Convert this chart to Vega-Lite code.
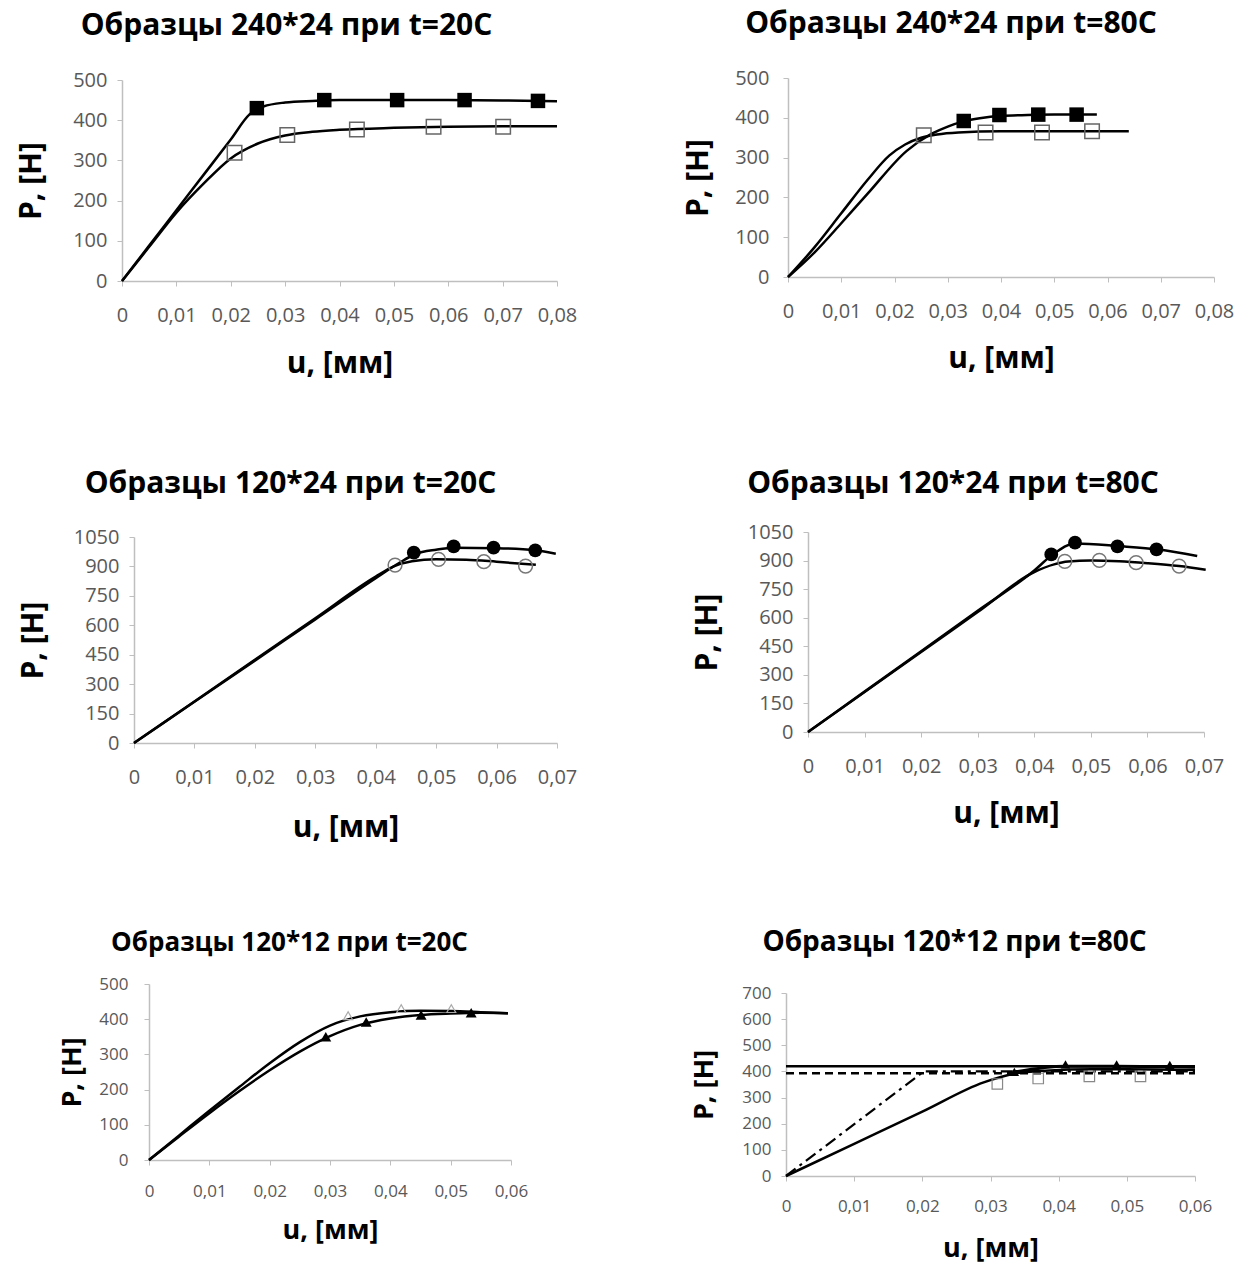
{
  "$schema": "https://vega.github.io/schema/vega-lite/v6.json",
  "background": "white",
  "padding": {"left": 16, "top": 9, "right": 5, "bottom": 5},
  "columns": 2,
  "bounds": "flush",
  "align": "each",
  "spacing": {"row": 241, "column": 229},
  "config": {
    "view": {"stroke": null},
    "axis": {"grid": false, "domainColor": "#bfbfbf", "domainWidth": 1.5, "tickColor": "#bfbfbf", "tickSize": 5, "labelColor": "#595959", "labelFont": "Open Sans", "labelFontSize": 20, "labelOverlap": false, "labelFlush": false, "titleFont": "Open Sans", "titleFontSize": 30, "titleFontWeight": "bold", "titleColor": "#000000"},
    "title": {"font": "Open Sans", "fontSize": 30, "fontWeight": "bold", "color": "#000000", "anchor": "middle", "frame": "group"}
  },
  "datasets": {
    "p1": [
      {"u": 0, "P": 0, "s": "fc"}, {"u": 0.005, "P": 88, "s": "fc"}, {"u": 0.01, "P": 176, "s": "fc"}, {"u": 0.015, "P": 264, "s": "fc"}, {"u": 0.02, "P": 352, "s": "fc"}, {"u": 0.0235, "P": 415, "s": "fc"}, {"u": 0.026, "P": 434, "s": "fc"}, {"u": 0.03, "P": 444, "s": "fc"}, {"u": 0.035, "P": 448, "s": "fc"}, {"u": 0.04, "P": 450, "s": "fc"}, {"u": 0.05, "P": 450, "s": "fc"}, {"u": 0.06, "P": 450, "s": "fc"}, {"u": 0.07, "P": 449, "s": "fc"}, {"u": 0.08, "P": 447, "s": "fc"},
      {"u": 0, "P": 0, "s": "oc"}, {"u": 0.005, "P": 85, "s": "oc"}, {"u": 0.01, "P": 170, "s": "oc"}, {"u": 0.015, "P": 242, "s": "oc"}, {"u": 0.02, "P": 305, "s": "oc"}, {"u": 0.025, "P": 342, "s": "oc"}, {"u": 0.03, "P": 362, "s": "oc"}, {"u": 0.035, "P": 371, "s": "oc"}, {"u": 0.04, "P": 376, "s": "oc"}, {"u": 0.05, "P": 381, "s": "oc"}, {"u": 0.06, "P": 384, "s": "oc"}, {"u": 0.07, "P": 385, "s": "oc"}, {"u": 0.08, "P": 385, "s": "oc"},
      {"u": 0.0248, "P": 430, "s": "fm"}, {"u": 0.0372, "P": 450, "s": "fm"}, {"u": 0.0506, "P": 450, "s": "fm"}, {"u": 0.063, "P": 450, "s": "fm"}, {"u": 0.0765, "P": 448, "s": "fm"},
      {"u": 0.0207, "P": 319, "s": "om"}, {"u": 0.0304, "P": 363, "s": "om"}, {"u": 0.0432, "P": 377, "s": "om"}, {"u": 0.0573, "P": 384, "s": "om"}, {"u": 0.0701, "P": 384, "s": "om"}
    ],
    "p2": [
      {"u": 0, "P": 0, "s": "fc"}, {"u": 0.005, "P": 62, "s": "fc"}, {"u": 0.01, "P": 135, "s": "fc"}, {"u": 0.015, "P": 210, "s": "fc"}, {"u": 0.0223, "P": 317, "s": "fc"}, {"u": 0.027, "P": 360, "s": "fc"}, {"u": 0.03, "P": 378, "s": "fc"}, {"u": 0.033, "P": 391, "s": "fc"}, {"u": 0.036, "P": 399, "s": "fc"}, {"u": 0.04, "P": 405, "s": "fc"}, {"u": 0.045, "P": 407, "s": "fc"}, {"u": 0.05, "P": 408, "s": "fc"}, {"u": 0.058, "P": 408, "s": "fc"},
      {"u": 0, "P": 0, "s": "oc"}, {"u": 0.005, "P": 75, "s": "oc"}, {"u": 0.01, "P": 160, "s": "oc"}, {"u": 0.015, "P": 245, "s": "oc"}, {"u": 0.019, "P": 305, "s": "oc"}, {"u": 0.022, "P": 333, "s": "oc"}, {"u": 0.025, "P": 350, "s": "oc"}, {"u": 0.028, "P": 358, "s": "oc"}, {"u": 0.032, "P": 363, "s": "oc"}, {"u": 0.04, "P": 366, "s": "oc"}, {"u": 0.05, "P": 366, "s": "oc"}, {"u": 0.064, "P": 366, "s": "oc"},
      {"u": 0.033, "P": 392, "s": "fm"}, {"u": 0.0397, "P": 407, "s": "fm"}, {"u": 0.047, "P": 408, "s": "fm"}, {"u": 0.0542, "P": 408, "s": "fm"},
      {"u": 0.0255, "P": 356, "s": "om"}, {"u": 0.0371, "P": 363, "s": "om"}, {"u": 0.0477, "P": 363, "s": "om"}, {"u": 0.0571, "P": 366, "s": "om"}
    ],
    "p3": [
      {"u": 0, "P": 0, "s": "fc"}, {"u": 0.01, "P": 210, "s": "fc"}, {"u": 0.02, "P": 420, "s": "fc"}, {"u": 0.03, "P": 630, "s": "fc"}, {"u": 0.04, "P": 840, "s": "fc"}, {"u": 0.044, "P": 920, "s": "fc"}, {"u": 0.0465, "P": 962, "s": "fc"}, {"u": 0.05, "P": 985, "s": "fc"}, {"u": 0.053, "P": 995, "s": "fc"}, {"u": 0.06, "P": 993, "s": "fc"}, {"u": 0.0665, "P": 982, "s": "fc"}, {"u": 0.0698, "P": 965, "s": "fc"},
      {"u": 0, "P": 0, "s": "oc"}, {"u": 0.01, "P": 212, "s": "oc"}, {"u": 0.02, "P": 424, "s": "oc"}, {"u": 0.03, "P": 636, "s": "oc"}, {"u": 0.04, "P": 848, "s": "oc"}, {"u": 0.043, "P": 900, "s": "oc"}, {"u": 0.046, "P": 926, "s": "oc"}, {"u": 0.05, "P": 936, "s": "oc"}, {"u": 0.055, "P": 934, "s": "oc"}, {"u": 0.06, "P": 924, "s": "oc"}, {"u": 0.0665, "P": 908, "s": "oc"},
      {"u": 0.0463, "P": 970, "s": "fm"}, {"u": 0.0529, "P": 1002, "s": "fm"}, {"u": 0.0595, "P": 996, "s": "fm"}, {"u": 0.0664, "P": 982, "s": "fm"},
      {"u": 0.0432, "P": 907, "s": "om"}, {"u": 0.0504, "P": 936, "s": "om"}, {"u": 0.0579, "P": 924, "s": "om"}, {"u": 0.0648, "P": 902, "s": "om"}
    ],
    "p4": [
      {"u": 0, "P": 0, "s": "fc"}, {"u": 0.01, "P": 212, "s": "fc"}, {"u": 0.02, "P": 424, "s": "fc"}, {"u": 0.03, "P": 636, "s": "fc"}, {"u": 0.04, "P": 848, "s": "fc"}, {"u": 0.043, "P": 925, "s": "fc"}, {"u": 0.0472, "P": 990, "s": "fc"}, {"u": 0.055, "P": 976, "s": "fc"}, {"u": 0.062, "P": 958, "s": "fc"}, {"u": 0.0688, "P": 924, "s": "fc"},
      {"u": 0, "P": 0, "s": "oc"}, {"u": 0.01, "P": 210, "s": "oc"}, {"u": 0.02, "P": 420, "s": "oc"}, {"u": 0.03, "P": 630, "s": "oc"}, {"u": 0.04, "P": 840, "s": "oc"}, {"u": 0.0435, "P": 880, "s": "oc"}, {"u": 0.046, "P": 895, "s": "oc"}, {"u": 0.05, "P": 900, "s": "oc"}, {"u": 0.055, "P": 896, "s": "oc"}, {"u": 0.06, "P": 886, "s": "oc"}, {"u": 0.0656, "P": 871, "s": "oc"}, {"u": 0.0703, "P": 852, "s": "oc"},
      {"u": 0.043, "P": 932, "s": "fm"}, {"u": 0.0472, "P": 994, "s": "fm"}, {"u": 0.0547, "P": 975, "s": "fm"}, {"u": 0.0616, "P": 959, "s": "fm"},
      {"u": 0.0454, "P": 896, "s": "om"}, {"u": 0.0515, "P": 901, "s": "om"}, {"u": 0.058, "P": 889, "s": "om"}, {"u": 0.0656, "P": 871, "s": "om"}
    ],
    "p5": [
      {"u": 0, "P": 0, "s": "uc"}, {"u": 0.005, "P": 70, "s": "uc"}, {"u": 0.01, "P": 140, "s": "uc"}, {"u": 0.015, "P": 208, "s": "uc"}, {"u": 0.02, "P": 275, "s": "uc"}, {"u": 0.025, "P": 335, "s": "uc"}, {"u": 0.03, "P": 382, "s": "uc"}, {"u": 0.035, "P": 408, "s": "uc"}, {"u": 0.04, "P": 420, "s": "uc"}, {"u": 0.045, "P": 424, "s": "uc"}, {"u": 0.05, "P": 423, "s": "uc"}, {"u": 0.055, "P": 420, "s": "uc"}, {"u": 0.0595, "P": 417, "s": "uc"},
      {"u": 0, "P": 0, "s": "lc"}, {"u": 0.005, "P": 67, "s": "lc"}, {"u": 0.01, "P": 133, "s": "lc"}, {"u": 0.015, "P": 196, "s": "lc"}, {"u": 0.02, "P": 255, "s": "lc"}, {"u": 0.025, "P": 308, "s": "lc"}, {"u": 0.03, "P": 352, "s": "lc"}, {"u": 0.035, "P": 384, "s": "lc"}, {"u": 0.04, "P": 402, "s": "lc"}, {"u": 0.045, "P": 412, "s": "lc"}, {"u": 0.05, "P": 416, "s": "lc"}, {"u": 0.055, "P": 418, "s": "lc"}, {"u": 0.0595, "P": 417, "s": "lc"},
      {"u": 0.0293, "P": 350, "s": "fm"}, {"u": 0.036, "P": 392, "s": "fm"}, {"u": 0.0451, "P": 412, "s": "fm"}, {"u": 0.0534, "P": 418, "s": "fm"},
      {"u": 0.033, "P": 410, "s": "om"}, {"u": 0.0418, "P": 430, "s": "om"}, {"u": 0.0501, "P": 430, "s": "om"}
    ],
    "p6": [
      {"u": 0, "P": 420, "s": "hs"}, {"u": 0.06, "P": 420, "s": "hs"},
      {"u": 0, "P": 393, "s": "hd"}, {"u": 0.06, "P": 393, "s": "hd"},
      {"u": 0, "P": 0, "s": "dd"}, {"u": 0.0202, "P": 400, "s": "dd"}, {"u": 0.06, "P": 400, "s": "dd"},
      {"u": 0, "P": 0, "s": "sc"}, {"u": 0.01, "P": 123, "s": "sc"}, {"u": 0.02, "P": 246, "s": "sc"}, {"u": 0.029, "P": 358, "s": "sc"}, {"u": 0.0336, "P": 392, "s": "sc"}, {"u": 0.038, "P": 403, "s": "sc"}, {"u": 0.045, "P": 408, "s": "sc"}, {"u": 0.05, "P": 408, "s": "sc"}, {"u": 0.06, "P": 405, "s": "sc"},
      {"u": 0.0335, "P": 398, "s": "tc"}, {"u": 0.041, "P": 420, "s": "tc"}, {"u": 0.0485, "P": 420, "s": "tc"}, {"u": 0.0563, "P": 418, "s": "tc"}, {"u": 0.06, "P": 416, "s": "tc"},
      {"u": 0.0335, "P": 398, "s": "fm"}, {"u": 0.041, "P": 427, "s": "fm"}, {"u": 0.0485, "P": 427, "s": "fm"}, {"u": 0.0563, "P": 425, "s": "fm"},
      {"u": 0.031, "P": 352, "s": "om"}, {"u": 0.037, "P": 373, "s": "om"}, {"u": 0.0445, "P": 381, "s": "om"}, {"u": 0.052, "P": 381, "s": "om"}
    ]
  },
  "concat": [
    {
      "width": 435, "height": 203,
      "title": {"text": "Образцы 240*24 при t=20C", "dx": -53, "offset": 29},
      "data": {"name": "p1"},
      "encoding": {
        "x": {"field": "u", "type": "quantitative", "scale": {"domain": [0, 0.08], "range": [0, 435], "nice": false},
              "axis": {"title": "u, [мм]", "values": [0, 0.01, 0.02, 0.03, 0.04, 0.05, 0.06, 0.07, 0.08], "labelExpr": "datum.value == 0 ? '0' : replace(format(datum.value, '.2f'), '.', ',')", "labelPadding": 19, "titlePadding": 23}},
        "y": {"field": "P", "type": "quantitative", "scale": {"domain": [0, 500], "range": [203, 2], "nice": false},
              "axis": {"title": "P, [Н]", "values": [0, 100, 200, 300, 400, 500], "format": "d", "labelPadding": 10, "titlePadding": 26}}
      },
      "layer": [
        {"transform": [{"filter": "datum.s == 'fc' || datum.s == 'oc'"}], "mark": {"type": "line", "color": "black", "strokeWidth": 2.5, "interpolate": "monotone"}, "encoding": {"detail": {"field": "s"}}},
        {"transform": [{"filter": "datum.s == 'fm'"}], "mark": {"type": "point", "shape": "square", "filled": true, "color": "black", "opacity": 1, "size": 210}},
        {"transform": [{"filter": "datum.s == 'om'"}], "mark": {"type": "point", "shape": "square", "filled": false, "color": "#666666", "opacity": 1, "strokeWidth": 1.5, "size": 210}}
      ]
    },
    {
      "width": 428, "height": 199,
      "title": {"text": "Образцы 240*24 при t=80C", "dx": -49, "offset": 29},
      "data": {"name": "p2"},
      "encoding": {
        "x": {"field": "u", "type": "quantitative", "scale": {"domain": [0, 0.08], "range": [2, 428], "nice": false},
              "axis": {"title": "u, [мм]", "values": [0, 0.01, 0.02, 0.03, 0.04, 0.05, 0.06, 0.07, 0.08], "labelExpr": "datum.value == 0 ? '0' : replace(format(datum.value, '.2f'), '.', ',')", "labelPadding": 19, "titlePadding": 22}},
        "y": {"field": "P", "type": "quantitative", "scale": {"domain": [0, 500], "range": [199, 0], "nice": false},
              "axis": {"title": "P, [Н]", "offset": -2, "values": [0, 100, 200, 300, 400, 500], "format": "d", "labelPadding": 14, "titlePadding": 21}}
      },
      "layer": [
        {"transform": [{"filter": "datum.s == 'fc' || datum.s == 'oc'"}], "mark": {"type": "line", "color": "black", "strokeWidth": 2.5, "interpolate": "monotone"}, "encoding": {"detail": {"field": "s"}}},
        {"transform": [{"filter": "datum.s == 'fm'"}], "mark": {"type": "point", "shape": "square", "filled": true, "color": "black", "opacity": 1, "size": 210}},
        {"transform": [{"filter": "datum.s == 'om'"}], "mark": {"type": "point", "shape": "square", "filled": false, "color": "#666666", "opacity": 1, "strokeWidth": 1.5, "size": 210}}
      ]
    },
    {
      "width": 435, "height": 221,
      "title": {"text": "Образцы 120*24 при t=20C", "dx": -49, "offset": 23},
      "data": {"name": "p3"},
      "encoding": {
        "x": {"field": "u", "type": "quantitative", "scale": {"domain": [0, 0.07], "range": [12, 435], "nice": false},
              "axis": {"title": "u, [мм]", "values": [0, 0.01, 0.02, 0.03, 0.04, 0.05, 0.06, 0.07], "labelExpr": "datum.value == 0 ? '0' : replace(format(datum.value, '.2f'), '.', ',')", "labelPadding": 19, "titlePadding": 25}},
        "y": {"field": "P", "type": "quantitative", "scale": {"domain": [0, 1050], "range": [221, 15], "nice": false},
              "axis": {"title": "P, [Н]", "offset": -12, "values": [0, 150, 300, 450, 600, 750, 900, 1050], "format": "d", "labelPadding": 10, "titlePadding": 25}}
      },
      "layer": [
        {"transform": [{"filter": "datum.s == 'fc' || datum.s == 'oc'"}], "mark": {"type": "line", "color": "black", "strokeWidth": 2.5, "interpolate": "monotone"}, "encoding": {"detail": {"field": "s"}}},
        {"transform": [{"filter": "datum.s == 'fm'"}], "mark": {"type": "point", "shape": "circle", "filled": true, "color": "black", "opacity": 1, "size": 190}},
        {"transform": [{"filter": "datum.s == 'om'"}], "mark": {"type": "point", "shape": "circle", "filled": false, "color": "#777777", "opacity": 1, "strokeWidth": 1.5, "size": 190}}
      ]
    },
    {
      "width": 418, "height": 210,
      "title": {"text": "Образцы 120*24 при t=80C", "dx": -42, "offset": 23},
      "data": {"name": "p4"},
      "encoding": {
        "x": {"field": "u", "type": "quantitative", "scale": {"domain": [0, 0.07], "range": [22, 418], "nice": false},
              "axis": {"title": "u, [мм]", "values": [0, 0.01, 0.02, 0.03, 0.04, 0.05, 0.06, 0.07], "labelExpr": "datum.value == 0 ? '0' : replace(format(datum.value, '.2f'), '.', ',')", "labelPadding": 19, "titlePadding": 22}},
        "y": {"field": "P", "type": "quantitative", "scale": {"domain": [0, 1050], "range": [210, 10], "nice": false},
              "axis": {"title": "P, [Н]", "offset": -22, "values": [0, 150, 300, 450, 600, 750, 900, 1050], "format": "d", "labelPadding": 10, "titlePadding": 25}}
      },
      "layer": [
        {"transform": [{"filter": "datum.s == 'fc' || datum.s == 'oc'"}], "mark": {"type": "line", "color": "black", "strokeWidth": 2.5, "interpolate": "monotone"}, "encoding": {"detail": {"field": "s"}}},
        {"transform": [{"filter": "datum.s == 'fm'"}], "mark": {"type": "point", "shape": "circle", "filled": true, "color": "black", "opacity": 1, "size": 190}},
        {"transform": [{"filter": "datum.s == 'om'"}], "mark": {"type": "point", "shape": "circle", "filled": false, "color": "#777777", "opacity": 1, "strokeWidth": 1.5, "size": 190}}
      ]
    },
    {
      "width": 389, "height": 176,
      "title": {"text": "Образцы 120*12 при t=20C", "dx": -27, "offset": 19, "fontSize": 26},
      "data": {"name": "p5"},
      "encoding": {
        "x": {"field": "u", "type": "quantitative", "scale": {"domain": [0, 0.06], "range": [27, 389], "nice": false},
              "axis": {"title": "u, [мм]", "values": [0, 0.01, 0.02, 0.03, 0.04, 0.05, 0.06], "labelExpr": "datum.value == 0 ? '0' : replace(format(datum.value, '.2f'), '.', ',')", "labelFontSize": 17, "titleFontSize": 27, "labelPadding": 18, "titlePadding": 18}},
        "y": {"field": "P", "type": "quantitative", "scale": {"domain": [0, 500], "range": [176, 0], "nice": false},
              "axis": {"title": "P, [Н]", "offset": -27, "values": [0, 100, 200, 300, 400, 500], "format": "d", "labelFontSize": 17, "titleFontSize": 27, "labelPadding": 16, "titlePadding": 12}}
      },
      "layer": [
        {"transform": [{"filter": "datum.s == 'uc' || datum.s == 'lc'"}], "mark": {"type": "line", "color": "black", "strokeWidth": 2.5, "interpolate": "monotone"}, "encoding": {"detail": {"field": "s"}}},
        {"transform": [{"filter": "datum.s == 'fm'"}], "mark": {"type": "point", "shape": "triangle-up", "filled": true, "color": "black", "opacity": 1, "size": 120}},
        {"transform": [{"filter": "datum.s == 'om'"}], "mark": {"type": "point", "shape": "triangle-up", "filled": false, "color": "#aaaaaa", "opacity": 1, "strokeWidth": 1.2, "size": 80}}
      ]
    },
    {
      "width": 409, "height": 192,
      "title": {"text": "Образцы 120*12 при t=80C", "dx": -36, "offset": 27, "fontSize": 28},
      "data": {"name": "p6"},
      "encoding": {
        "x": {"field": "u", "type": "quantitative", "scale": {"domain": [0, 0.06], "range": [0, 409], "nice": false},
              "axis": {"title": "u, [мм]", "values": [0, 0.01, 0.02, 0.03, 0.04, 0.05, 0.06], "labelExpr": "datum.value == 0 ? '0' : replace(format(datum.value, '.2f'), '.', ',')", "labelFontSize": 17, "titleFontSize": 27, "labelPadding": 17, "titlePadding": 21}},
        "y": {"field": "P", "type": "quantitative", "scale": {"domain": [0, 700], "range": [192, 9], "nice": false},
              "axis": {"title": "P, [Н]", "values": [0, 100, 200, 300, 400, 500, 600, 700], "format": "d", "labelFontSize": 17, "titleFontSize": 27, "labelPadding": 10, "titlePadding": 23}}
      },
      "layer": [
        {"transform": [{"filter": "datum.s == 'hs'"}], "mark": {"type": "line", "color": "black", "strokeWidth": 2.5}, "encoding": {}},
        {"transform": [{"filter": "datum.s == 'hd'"}], "mark": {"type": "line", "color": "black", "strokeWidth": 2.5, "strokeDash": [8, 5]}, "encoding": {}},
        {"transform": [{"filter": "datum.s == 'dd'"}], "mark": {"type": "line", "color": "black", "strokeWidth": 2.2, "strokeDash": [12, 5, 3, 5]}, "encoding": {}},
        {"transform": [{"filter": "datum.s == 'sc'"}], "mark": {"type": "line", "color": "black", "strokeWidth": 2.5, "interpolate": "monotone"}, "encoding": {}},
        {"transform": [{"filter": "datum.s == 'tc'"}], "mark": {"type": "line", "color": "black", "strokeWidth": 3, "interpolate": "monotone"}, "encoding": {}},
        {"transform": [{"filter": "datum.s == 'fm'"}], "mark": {"type": "point", "shape": "triangle-up", "filled": true, "color": "black", "opacity": 1, "size": 90}},
        {"transform": [{"filter": "datum.s == 'om'"}], "mark": {"type": "point", "shape": "square", "filled": false, "color": "#888888", "opacity": 1, "strokeWidth": 1.2, "size": 110}}
      ]
    }
  ]
}
